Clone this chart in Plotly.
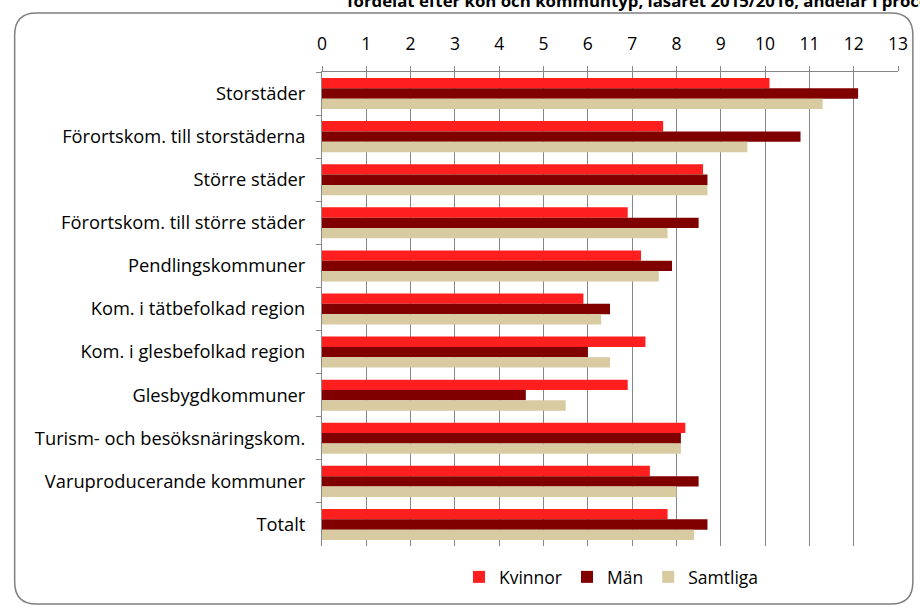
import plotly.graph_objects as go

# Data (andelar i procent)
kategorier = [
    "Storstäder",
    "Förortskom. till storstäderna",
    "Större städer",
    "Förortskom. till större städer",
    "Pendlingskommuner",
    "Kom. i tätbefolkad region",
    "Kom. i glesbefolkad region",
    "Glesbygdkommuner",
    "Turism- och besöksnäringskom.",
    "Varuproducerande kommuner",
    "Totalt",
]
kvinnor = [10.1, 7.7, 8.6, 6.9, 7.2, 5.9, 7.3, 6.9, 8.2, 7.4, 7.8]
man = [12.1, 10.8, 8.7, 8.5, 7.9, 6.5, 6.0, 4.6, 8.1, 8.5, 8.7]
samtliga = [11.3, 9.6, 8.7, 7.8, 7.6, 6.3, 6.5, 5.5, 8.1, 8.0, 8.4]
x_ticks = list(range(0, 14))

TITLE = "fördelat efter kön och kommuntyp, läsåret 2015/2016, andelar i procent"
FONT = "'Open Sans', Lato, sans-serif"
GRID = "#878787"

W, H = 920, 610
L, R, T, B = 322, 17, 72, 64
PW, PH = W - L - R, H - T - B


def px(x):
    """Pixel x -> paper x."""
    return (x - L) / PW


def py(y):
    """Pixel y (from top) -> paper y."""
    return (H - B - y) / PH


def rounded_rect(x0, y0, x1, y1, r):
    return (
        f"M {px(x0 + r)} {py(y0)} L {px(x1 - r)} {py(y0)} "
        f"Q {px(x1)} {py(y0)} {px(x1)} {py(y0 + r)} "
        f"L {px(x1)} {py(y1 - r)} Q {px(x1)} {py(y1)} {px(x1 - r)} {py(y1)} "
        f"L {px(x0 + r)} {py(y1)} Q {px(x0)} {py(y1)} {px(x0)} {py(y1 - r)} "
        f"L {px(x0)} {py(y0 + r)} Q {px(x0)} {py(y0)} {px(x0 + r)} {py(y0)} Z"
    )


fig = go.Figure()
for name, vals, color in [
    ("Kvinnor", kvinnor, "#FF1F1F"),
    ("Män", man, "#800000"),
    ("Samtliga", samtliga, "#D8CBA2"),
]:
    fig.add_trace(
        go.Bar(
            x=vals,
            y=kategorier,
            orientation="h",
            name=name,
            marker=dict(color=color, line=dict(width=0)),
        )
    )

fig.update_layout(
    width=W,
    height=H,
    margin=dict(l=L, r=R, t=T, b=B),
    barmode="group",
    bargap=0.28,
    bargroupgap=0,
    plot_bgcolor="white",
    paper_bgcolor="white",
    font=dict(family=FONT, size=17.5, color="#000000"),
    xaxis=dict(
        side="top",
        range=[0, 13],
        tickvals=x_ticks,
        showgrid=True,
        gridcolor=GRID,
        gridwidth=1,
        showline=True,
        linecolor=GRID,
        linewidth=1,
        ticks="outside",
        ticklen=5,
        tickcolor=GRID,
        ticklabelstandoff=9,
        zeroline=False,
        fixedrange=True,
    ),
    yaxis=dict(
        autorange="reversed",
        showgrid=False,
        showline=True,
        linecolor=GRID,
        linewidth=1,
        ticks="outside",
        tickson="boundaries",
        ticklen=5,
        tickcolor=GRID,
        ticklabelstandoff=12,
        tickfont=dict(size=18.3),
        fixedrange=True,
    ),
    legend=dict(
        orientation="h",
        x=px(614),
        xanchor="center",
        y=py(577),
        yanchor="middle",
        font=dict(size=17.5),
        itemwidth=30,
        traceorder="normal",
    ),
    shapes=[
        dict(
            type="path",
            xref="paper",
            yref="paper",
            path=rounded_rect(12, 13, 918, 604, 22),
            line=dict(color="#7F7F7F", width=1.5),
            layer="below",
        )
    ],
    annotations=[
        dict(
            text=f"<b>{TITLE}</b>",
            xref="paper",
            yref="paper",
            x=px(345),
            y=py(0.5),
            xanchor="left",
            yanchor="middle",
            showarrow=False,
            font=dict(size=16.8, family=FONT),
        )
    ],
)

fig.write_html(
    "out.html",
    config={"displayModeBar": False},
    post_script="document.body.style.margin='0';document.body.style.overflow='hidden';",
)
